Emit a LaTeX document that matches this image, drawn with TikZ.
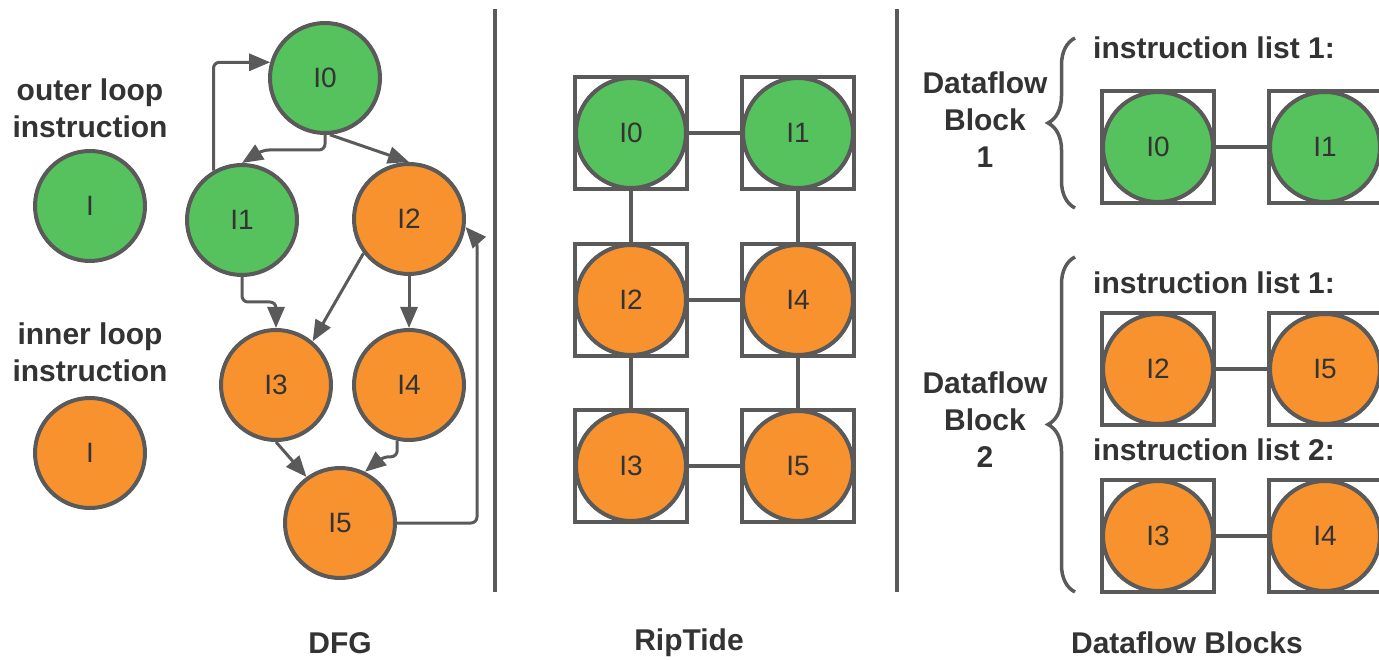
\documentclass[tikz,border=0pt]{standalone}
\usepackage{fontspec}
\setmainfont{Liberation Sans}
\usetikzlibrary{arrows.meta,decorations.pathreplacing}
\definecolor{outer}{HTML}{55C25D}
\definecolor{inner}{HTML}{F7922F}
\definecolor{edge}{HTML}{5A5A5A}
\definecolor{ink}{HTML}{333333}
\begin{document}
\begin{tikzpicture}[x=1pt,y=-1pt,
	inst/.style={circle,draw=edge,line width=4pt,minimum size=110pt,inner sep=0pt,text=ink,font=\fontsize{28}{28}\selectfont},
	outr/.style={inst,fill=outer},
	innr/.style={inst,fill=inner},
	pe/.style={draw=edge,line width=3.5pt,minimum size=112pt,inner sep=0pt},
	arr/.style={draw=edge,line width=3pt,-{Triangle[length=21pt,width=17pt]},rounded corners=6pt},
	link/.style={draw=edge,line width=3.5pt},
	sep/.style={draw=edge,line width=4pt},
	title/.style={text=ink,font=\bfseries\fontsize{30}{37}\selectfont,align=center}]
	\useasboundingbox (0,0) rectangle (1379,660);
	% legend
	\node[title] (outerlbl) at (90,108) {outer loop\\instruction};
	\node[outr] (legO) at (90,206) {I};
	\node[title] (innerlbl) at (90,352) {inner loop\\instruction};
	\node[innr] (legI) at (90,453) {I};
	% DFG
	\node[outr] (I0) at (325,78) {I0};
	\node[outr] (I1) at (242,220) {I1};
	\node[innr] (I2) at (409,219) {I2};
	\node[innr] (I3) at (276,385) {I3};
	\node[innr] (I4) at (409,385) {I4};
	\node[innr] (I5) at (340,523) {I5};
	\coordinate (back) at (477,240);
	\draw[arr] (I1.120) |- (I0.164);
	\draw[arr] (I0.south) |- ++(-62,15) -- (I1.north);
	\draw[arr] (I0.-85) -- (I2.north);
	\draw[arr] (I1.south) -- ++(0,25) -| (I3.north);
	\draw[arr] (I2.217) -- (I3.50);
	\draw[arr] (I2.south) -- (I4.north);
	\draw[arr] (I3.south) -- (I5.126);
	\draw[arr] (I4.-102) |- ++(-14,16) -- (I5.64);
	\draw[arr] (I5.east) -| (back) -- (I2.-8);
	\draw[sep] (495,9) coordinate (s1a) -- (495,592) coordinate (s1b);
	\draw[sep] (897,9) coordinate (s2a) -- (897,592) coordinate (s2b);
	% RipTide
	\foreach \n/\x/\y/\c in {0/631/133/outr,1/798/133/outr,2/631/300/innr,4/798/300/innr,3/631/466/innr,5/798/466/innr}{
		\node[pe] (rs\n) at (\x,\y) {};
		\node[\c] (r\n) at (\x,\y) {I\n};
	}
	\foreach \a/\b in {0/1,2/4,3/5,0/2,2/3,1/4,4/5} \draw[link] (r\a) -- (r\b);
	% dataflow blocks
	\foreach \n/\x/\y/\c in {0/1158/147/outr,1/1325/147/outr,2/1158/369/innr,5/1325/369/innr,3/1158/536/innr,4/1325/536/innr}{
		\node[pe] (ds\n) at (\x,\y) {};
		\node[\c] (d\n) at (\x,\y) {I\n};
	}
	\foreach \a/\b in {0/1,2/5,3/4} \draw[link] (d\a) -- (d\b);
	\node[title] (list1) at (1214,48) {instruction list 1:};
	\node[title] (list2) at (1214,283) {instruction list 1:};
	\node[title] (list3) at (1214,450) {instruction list 2:};
	\node[title] (blk1) at (985,120) {Dataflow\\Block\\1};
	\node[title] (blk2) at (985,420) {Dataflow\\Block\\2};
	\draw[link,decorate,decoration={brace,amplitude=27pt}] (1075,208) -- (1075,38);
	\draw[link,decorate,decoration={brace,amplitude=27pt}] (1075,592) -- (1075,257);
	% captions
	\node[title] (dfg) at (340,643) {DFG};
	\node[title] (rip) at (689,643) {RipTide};
	\node[title] (dfb) at (1187,643) {Dataflow Blocks};
\end{tikzpicture}
\end{document}
